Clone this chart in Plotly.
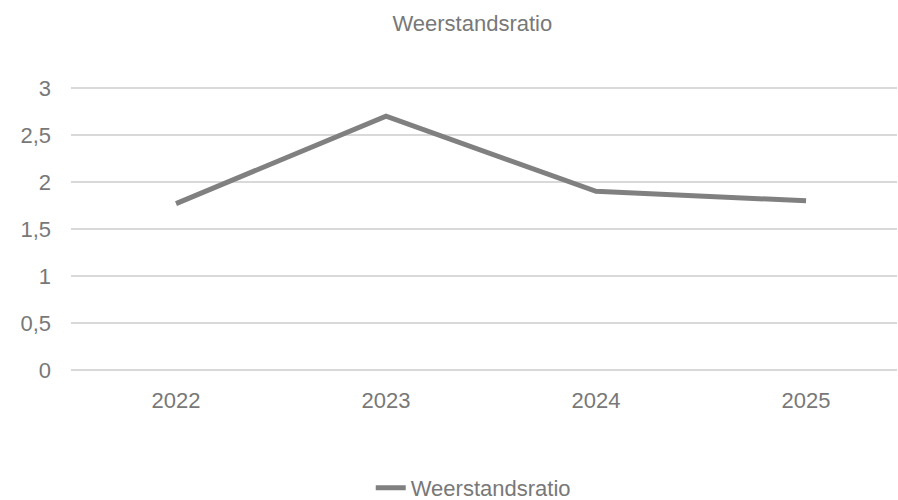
import plotly.graph_objects as go

# Weerstandsratio per jaar
years = ["2022", "2023", "2024", "2025"]
ratio = [1.77, 2.70, 1.90, 1.80]

y_ticks = [0, 0.5, 1, 1.5, 2, 2.5, 3]
y_labels = ["0", "0,5", "1", "1,5", "2", "2,5", "3"]

text_color = "#787878"
font = "Liberation Sans, Arial, sans-serif"

fig = go.Figure()
fig.add_trace(go.Scatter(
    x=list(range(len(years))),
    y=ratio,
    mode="lines",
    name="Weerstandsratio",
    line=dict(color="#808080", width=5),
))

fig.update_layout(
    width=898,
    height=500,
    margin=dict(l=71, r=1, t=86, b=128),
    paper_bgcolor="white",
    plot_bgcolor="white",
    font=dict(family=font, color=text_color, size=22),
    title=dict(
        text="Weerstandsratio",
        x=0.526, xref="container", xanchor="center",
        y=0.953, yref="container", yanchor="middle",
        font=dict(size=22, color=text_color),
    ),
    xaxis=dict(
        range=[-0.5, 3.433],
        tickmode="array",
        tickvals=list(range(len(years))),
        ticktext=years,
        showgrid=False,
        zeroline=False,
        showline=False,
        ticks="",
        ticklabelstandoff=13,
        tickfont=dict(size=22, color=text_color),
    ),
    yaxis=dict(
        # padding so the gridlines at 0 and 3 are not clipped at the edges
        range=[-0.02, 3.02],
        tickmode="array",
        tickvals=y_ticks,
        ticktext=y_labels,
        showgrid=True,
        gridcolor="#d9d9d9",
        gridwidth=1.5,
        zeroline=False,
        showline=False,
        ticks="",
        ticklabelstandoff=19,
        tickfont=dict(size=22, color=text_color),
    ),
    showlegend=True,
    legend=dict(
        orientation="h",
        x=0.527, xref="container", xanchor="center",
        y=0.024, yref="container", yanchor="middle",
        font=dict(size=22, color=text_color),
        itemwidth=30,
    ),
)

fig.write_html("out.html")
